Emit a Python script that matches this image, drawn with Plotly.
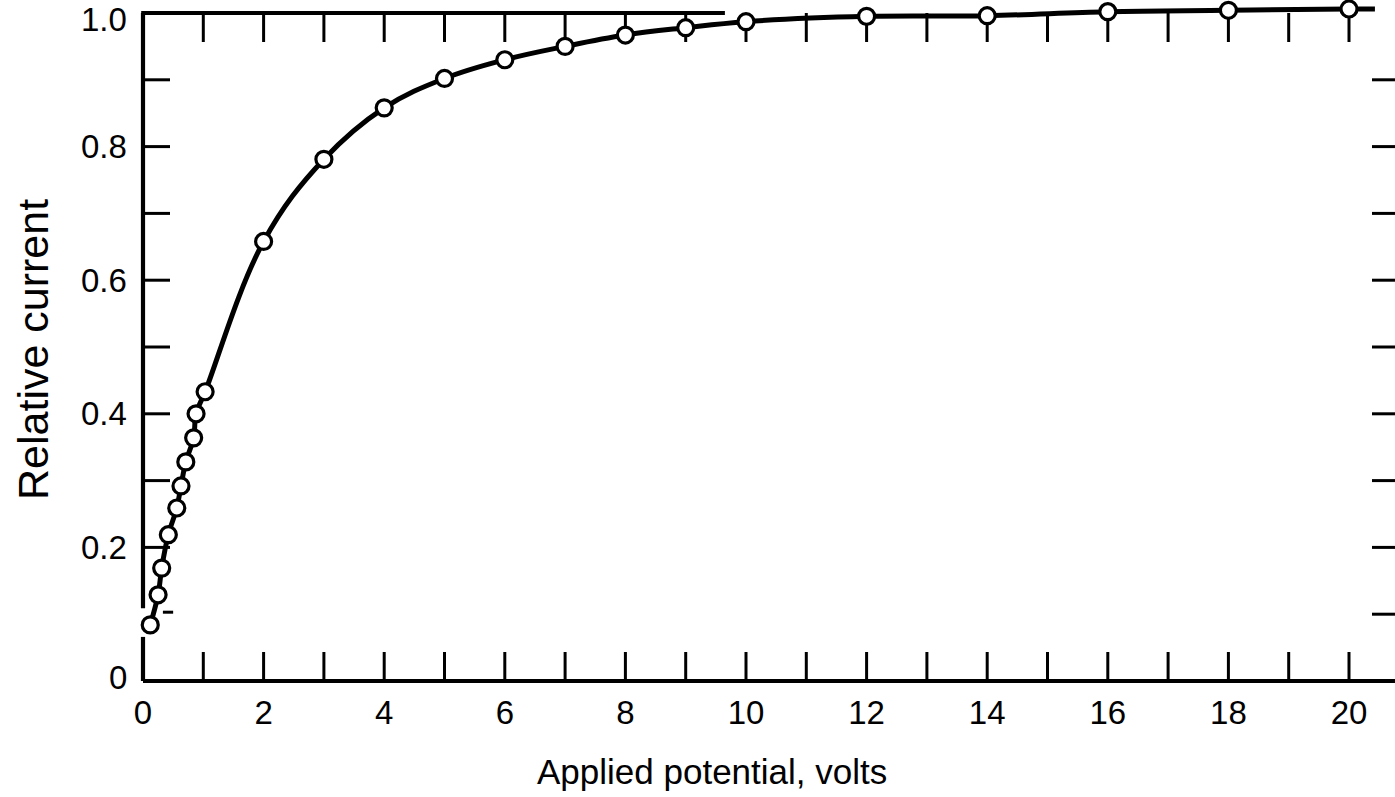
import plotly.graph_objects as go

# Measured points: applied potential (V) vs. relative current
volts = [0.12, 0.25, 0.31, 0.42, 0.56, 0.63, 0.71, 0.84, 0.88, 1.03,
         2, 3, 4, 5, 6, 7, 8, 9, 10, 12, 14, 16, 18, 20]
rel_current = [0.084, 0.129, 0.169, 0.219, 0.259, 0.292, 0.328, 0.364, 0.400, 0.433,
               0.658, 0.781, 0.858, 0.902, 0.930, 0.950, 0.967, 0.978, 0.987,
               0.995, 0.996, 1.002, 1.004, 1.006]

# Where the drawn saturation curve runs out past the last point
curve_end_volts = 20.43
curve_end_current = 1.006

# Axis ticks and labels
x_ticks = list(range(0, 21))
x_labels = ["0", "", "2", "", "4", "", "6", "", "8", "", "10", "", "12", "",
            "14", "", "16", "", "18", "", "20"]
y_label_vals = [0.0, 0.2, 0.4, 0.6, 0.8, 1.0]
y_labels = ["0", "0.2", "0.4", "0.6", "0.8", "1.0"]
y_minor = [0.1, 0.2, 0.3, 0.4, 0.5, 0.6, 0.7, 0.8, 0.9]

# Frame pieces (data units)
top_rule_end = 9.65          # top rule stops here; the curve carries on
left_gap = (0.066, 0.109)    # break in the left rule

W, H = 1395, 797
L, R, T, B = 136, 0, 0, 107
px_per_x = 60.3
px_per_y = 668.0
x_lo = -(143 - L) / px_per_x
x_hi = x_lo + (W - L - R) / px_per_x
y_hi = 1.0 + (13 - T) / px_per_y
y_lo = y_hi - (H - T - B) / px_per_y
plot_w = W - L - R
plot_h = H - T - B

FONT = "Liberation Sans, Arial, Helvetica, sans-serif"
INK = "black"

fig = go.Figure()

# smooth curve through the points
fig.add_trace(go.Scatter(
    x=volts + [curve_end_volts], y=rel_current + [curve_end_current],
    mode="lines", line=dict(color=INK, width=5, shape="spline", smoothing=1.1),
    hoverinfo="skip", showlegend=False, cliponaxis=False,
))
# open circle markers
fig.add_trace(go.Scatter(
    x=volts, y=rel_current, mode="markers",
    marker=dict(symbol="circle", size=16, color="white",
                line=dict(color=INK, width=3.2)),
    showlegend=False, cliponaxis=False,
))

shapes = []
LW = 4.2
TW = 3

def seg(x0, y0, x1, y1, w=LW):
    shapes.append(dict(type="line", xref="x", yref="y", x0=x0, y0=y0, x1=x1, y1=y1,
                       line=dict(color=INK, width=w), layer="below"))

# bottom rule (runs off the right edge)
seg(0, 0, x_hi + 0.5, 0)
# left rule with its break
seg(0, 1.0, 0, left_gap[1])
seg(0, left_gap[0], 0, 0)
# top rule, partial
seg(-0.03, 1.0, top_rule_end, 1.0)
# stray stub of the 0.1 tick
seg(0.33, 0.103, 0.5, 0.103, w=TW)

# bottom ticks pointing up, top ticks pointing down
for xv in x_ticks[1:]:
    shapes.append(dict(type="line", xref="x", yref="y", ysizemode="pixel", yanchor=0,
                       x0=xv, x1=xv, y0=0, y1=29, line=dict(color=INK, width=TW),
                       layer="below"))
    shapes.append(dict(type="line", xref="x", yref="y", ysizemode="pixel", yanchor=1.0,
                       x0=xv, x1=xv, y0=0, y1=-29, line=dict(color=INK, width=TW),
                       layer="below"))

# left ticks pointing right, right ticks pointing left
for yv in y_minor:
    if yv > 0.15:
        shapes.append(dict(type="line", xref="x", yref="y", xsizemode="pixel", xanchor=0,
                           x0=0, x1=27, y0=yv, y1=yv, line=dict(color=INK, width=TW),
                           layer="below"))
    shapes.append(dict(type="line", xref="x", yref="y", xsizemode="pixel", xanchor=x_hi,
                       x0=-23, x1=3, y0=yv, y1=yv, line=dict(color=INK, width=TW),
                       layer="below"))

annotations = []
# y tick labels, right-aligned just left of the frame
for val, txt in zip(y_label_vals, y_labels):
    shift = 0
    if val == 1.0:
        shift = -6
    elif val == 0.0:
        shift = 4
    annotations.append(dict(
        text=txt, xref="paper", yref="y", x=(129 - L) / plot_w, y=val,
        xanchor="right", yanchor="middle", yshift=shift, showarrow=False,
        font=dict(family=FONT, size=33, color=INK)))

annotations += [
    dict(text="Applied potential, volts", xref="paper", yref="paper",
         x=(712 - L) / plot_w, y=-(772 - (H - B)) / plot_h,
         xanchor="center", yanchor="middle", showarrow=False,
         font=dict(family=FONT, size=35, color=INK)),
    dict(text="Relative current", xref="paper", yref="paper",
         x=(33 - L) / plot_w, y=1 - (350 - T) / plot_h,
         xanchor="center", yanchor="middle", textangle=-90, showarrow=False,
         font=dict(family=FONT, size=43, color=INK)),
]

fig.update_layout(
    width=W, height=H,
    margin=dict(l=L, r=R, t=T, b=B, pad=0),
    paper_bgcolor="white", plot_bgcolor="white",
    shapes=shapes, annotations=annotations,
    font=dict(family=FONT, color=INK),
)
fig.update_xaxes(
    range=[x_lo, x_hi], tickmode="array", tickvals=x_ticks, ticktext=x_labels,
    ticks="", showline=False, showgrid=False, zeroline=False,
    tickfont=dict(family=FONT, size=33, color=INK),
)
fig.update_yaxes(
    range=[y_lo, y_hi], showticklabels=False,
    ticks="", showline=False, showgrid=False, zeroline=False,
)

fig.write_html("out.html")
